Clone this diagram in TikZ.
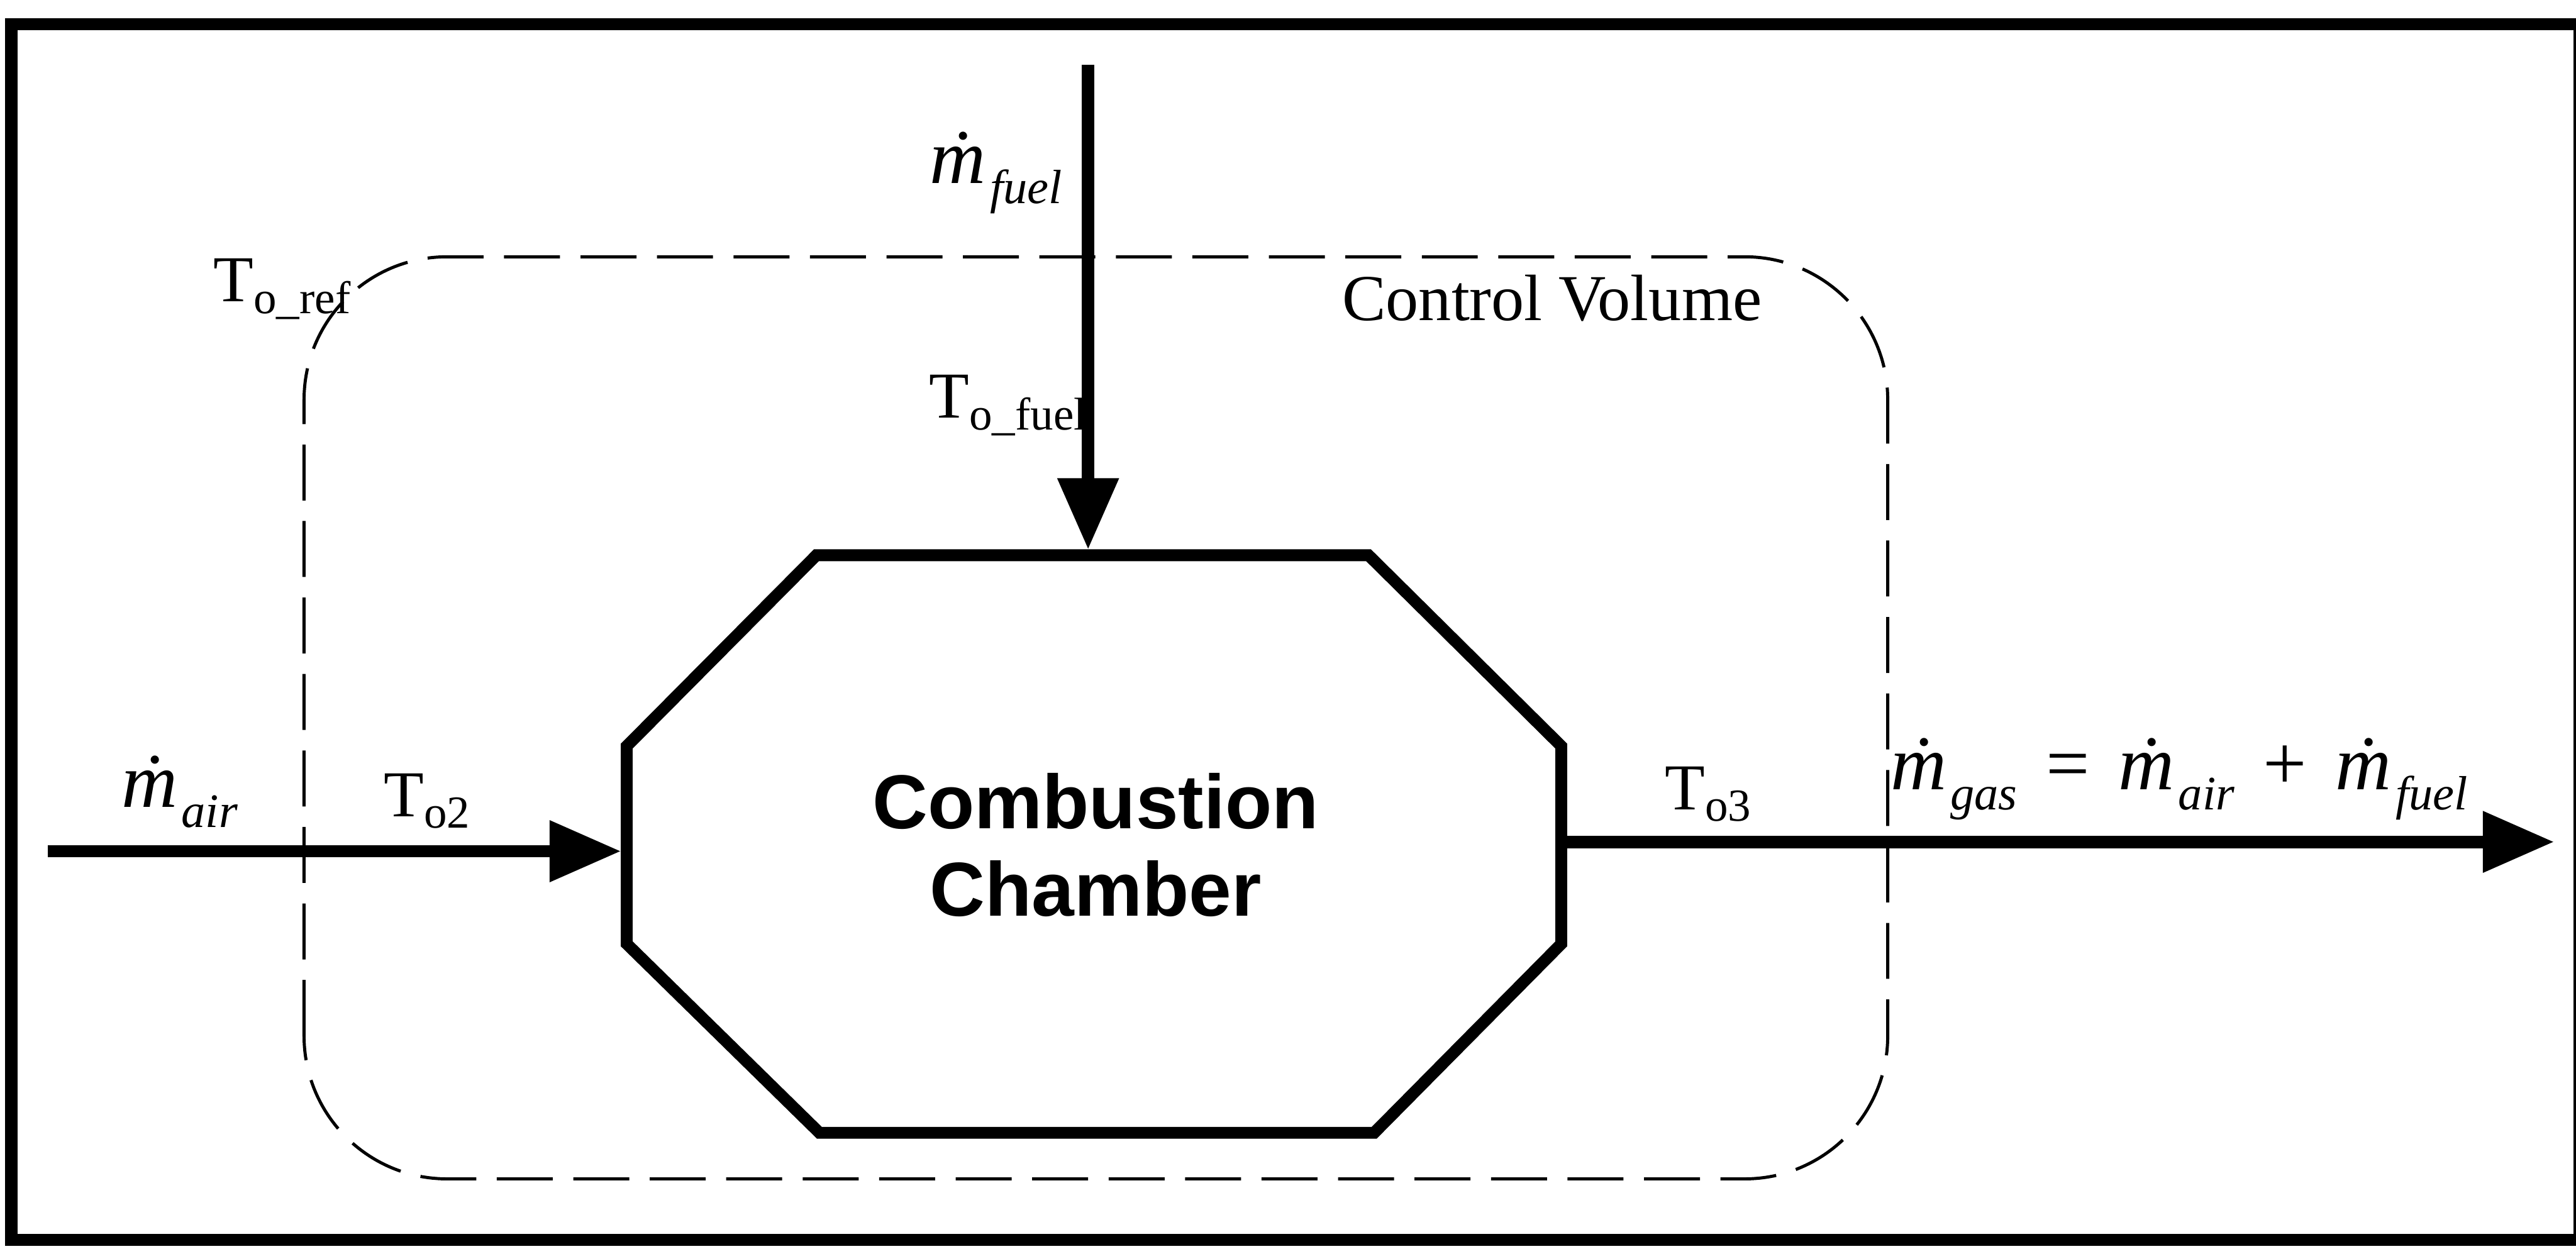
\documentclass[tikz,border=0pt]{standalone}
\usepackage{fontspec}
\setmainfont{Liberation Serif}
\newfontfamily\chamberfont{Liberation Sans}
\usepackage{tikz}
\usetikzlibrary{arrows.meta,calc}
\newcommand{\flowrate}[1]{{\itshape\.{m}}\kern0.05em\raisebox{-0.26em}{\fontsize{22}{22}\selectfont\itshape #1}}
\newcommand{\tsub}[1]{\raisebox{-0.18em}{\fontsize{21}{21}\selectfont #1}}

\begin{document}
\begin{tikzpicture}[
  frame/.style={line width=2mm},
  octo/.style={line width=1.9mm, line join=miter},
  cvbox/.style={line width=0.5mm, dash pattern=on 9mm off 3.3mm, rounded corners=23mm},
  flow/.style={line width=2mm, -{Triangle[length=11.5mm,width=9.4mm]}},
  tlabel/.style={inner sep=0pt, anchor=base west, font=\fontsize{30}{30}\selectfont},
  flowlabel/.style={inner sep=0pt, anchor=base west, font=\fontsize{35.5}{36}\selectfont}]
\useasboundingbox (0,0) rectangle (41.43,20.08);
\draw[frame] (0.18,0.14) rectangle (41.49,19.69);
\draw[cvbox] (4.89,1.12) rectangle (30.36,15.95);
\coordinate (o1) at (13.13,11.15);
\coordinate (o2) at (22.01,11.15);
\coordinate (o3) at (25.11,8.08);
\coordinate (o4) at (25.11,4.90);
\coordinate (o5) at (22.10,1.86);
\coordinate (o6) at (13.18,1.86);
\coordinate (o7) at (10.08,4.90);
\coordinate (o8) at (10.08,8.08);
\draw[octo] (o1) -- (o2) -- (o3) -- (o4) -- (o5) -- (o6) -- (o7) -- (o8) -- cycle;
\node[align=center, font=\chamberfont\bfseries\fontsize{35}{40}\selectfont] (cc) at (17.62,6.49) {Combustion\\Chamber};
\coordinate (airsrc) at (0.77,6.39);
\coordinate (airdst) at (9.99,6.39);
\coordinate (outsrc) at (25.11,6.54);
\coordinate (outdst) at (41.08,6.54);
\coordinate (fuelsrc) at (17.50,19.04);
\coordinate (fueldst) at (17.50,11.24);
\draw[flow] (airsrc) -- (airdst);
\draw[flow] (outsrc) -- (outdst);
\draw[flow] (fuelsrc) -- (fueldst);
\node[flowlabel] (mfuel) at (14.95,17.13) {\flowrate{fuel}};
\node[tlabel] (tfuel) at (14.94,13.36) {T\tsub{o\_fuel}};
\node[tlabel] (tref) at (3.43,15.23) {T\tsub{o\_ref}};
\node[tlabel] (cvol) at (21.58,14.93) {Control Volume};
\node[flowlabel] (mair) at (1.95,7.10) {\flowrate{air}};
\node[tlabel] (tin) at (6.17,6.95) {T\tsub{o2}};
\node[tlabel] (tout) at (26.77,7.06) {T\tsub{o3}};
\node[flowlabel] (mgas) at (30.40,7.38) {\flowrate{gas}\hspace{0.12em} = \hspace{0.12em}\flowrate{air}\hspace{0.12em} + \hspace{0.12em}\flowrate{fuel}};
\end{tikzpicture}
\end{document}
